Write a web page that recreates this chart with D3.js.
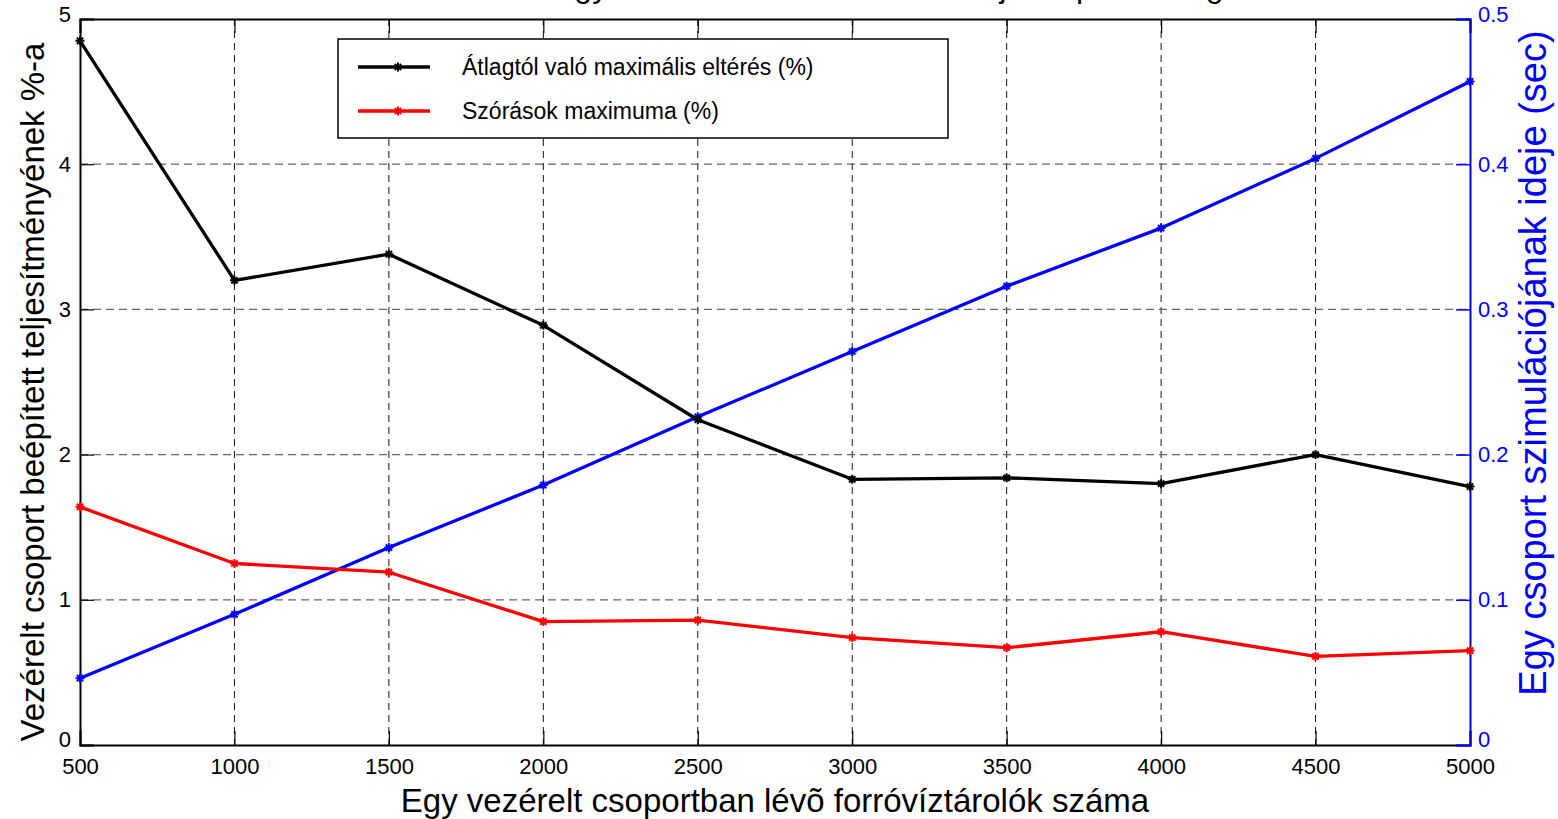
<!DOCTYPE html>
<html>
<head>
<meta charset="utf-8">
<script src="https://cdn.jsdelivr.net/npm/d3@7"></script>
<style>
  body { margin: 0; background: #fff; }
  svg { display: block; font-family: "Liberation Sans", Arial, sans-serif; }
</style>
</head>
<body>
<svg id="chart"></svg>
<script>
// adatok
const groupSizes = [500, 1000, 1500, 2000, 2500, 3000, 3500, 4000, 4500, 5000];
const maxDeviation = [4.85, 3.20, 3.38, 2.89, 2.24, 1.83, 1.84, 1.80, 2.00, 1.78];
const maxStd = [1.64, 1.25, 1.19, 0.85, 0.86, 0.74, 0.67, 0.78, 0.61, 0.65];
const simTime = [0.046, 0.090, 0.136, 0.179, 0.226, 0.271, 0.316, 0.356, 0.404, 0.457];
const leftTicks = [0, 1, 2, 3, 4, 5];
const rightTicks = [0, 0.1, 0.2, 0.3, 0.4, 0.5];
const seriesNames = ["Átlagtól való maximális eltérés (%)", "Szórások maximuma (%)"];

const W = 1558, H = 819;
const margin = { top: 19, right: 88, bottom: 74, left: 80 };
const FONT = "Liberation Sans, Arial, sans-serif";

const svg = d3.select("#chart").attr("width", W).attr("height", H);

const x = d3.scaleLinear().domain([500, 5000]).range([margin.left, W - margin.right]);
const yL = d3.scaleLinear().domain([0, 5]).range([H - margin.bottom, margin.top]);
const yR = d3.scaleLinear().domain([0, 0.5]).range([H - margin.bottom, margin.top]);

const x0 = margin.left, x1 = W - margin.right, y0 = H - margin.bottom, y1 = margin.top;

// cím (az eredetin is felül levágva)
svg.append("text")
  .attr("x", 553).attr("y", -3)
  .attr("font-size", 32)
  .text("Egy vezérelt hálózat szimulációja és pontossága");

// rács
const grid = svg.append("g");
grid.selectAll(".gx").data(groupSizes.slice(1, -1)).enter().append("line")
  .attr("x1", d => x(d)).attr("x2", d => x(d))
  .attr("y1", y1).attr("y2", y0)
  .attr("stroke", "#111").attr("stroke-width", 1).attr("stroke-dasharray", "7,5");
grid.selectAll(".gy").data(leftTicks.slice(1, -1)).enter().append("line")
  .attr("x1", x0).attr("x2", x1)
  .attr("y1", d => yL(d)).attr("y2", d => yL(d))
  .attr("stroke", "#666").attr("stroke-width", 1.2).attr("stroke-dasharray", "8,5");

// tengelyek
const axB = svg.append("g").attr("transform", `translate(0,${y0})`)
  .call(d3.axisBottom(x).tickValues(groupSizes).tickSize(-14).tickFormat(d3.format("d")));
const axT = svg.append("g").attr("transform", `translate(0,${y1})`)
  .call(d3.axisTop(x).tickValues(groupSizes).tickSize(-14).tickFormat(""));
const axL = svg.append("g").attr("transform", `translate(${x0},0)`)
  .call(d3.axisLeft(yL).tickValues(leftTicks).tickSize(-14).tickFormat(d3.format("d")));
const axR = svg.append("g").attr("transform", `translate(${x1},0)`)
  .call(d3.axisRight(yR).tickValues(rightTicks).tickSize(-14).tickFormat(d => d === 0 ? "0" : d3.format(".1f")(d)));

[axB, axT, axL, axR].forEach(a => a.attr("font-size", null).attr("font-family", null));
[axB, axT, axL].forEach(a => {
  a.selectAll("path.domain").attr("stroke", "#000").attr("stroke-width", 2);
  a.selectAll(".tick line").attr("stroke", "#000").attr("stroke-width", 1.2);
  a.selectAll("text").attr("font-size", 22).attr("fill", "#000").attr("font-family", FONT);
});
axR.selectAll("path.domain").attr("stroke", "#0000cc").attr("stroke-width", 2);
axR.selectAll(".tick line").attr("stroke", "#0000ff").attr("stroke-width", 1.5);
axR.selectAll("text").attr("font-size", 22).attr("fill", "#0000ff").attr("font-family", FONT);
axB.selectAll("text").attr("dy", "0.71em").attr("y", 13);
axL.selectAll("text").attr("x", -9).attr("dy", d => d === 0 ? "0.05em" : d === 5 ? "0.1em" : "0.32em");
axR.selectAll("text").attr("x", 8).attr("dy", d => d === 0 ? "0.05em" : d === 0.5 ? "0.1em" : "0.32em");

// tengelyfeliratok
svg.append("text")
  .attr("x", (x0 + x1) / 2).attr("y", 812)
  .attr("text-anchor", "middle").attr("font-size", 33)
  .text("Egy vezérelt csoportban lévõ forróvíztárolók száma");
svg.append("text")
  .attr("transform", `translate(44,${(y0 + y1) / 2 + 10}) rotate(-90)`)
  .attr("text-anchor", "middle").attr("font-size", 33)
  .text("Vezérelt csoport beépített teljesítményének %-a");
svg.append("text")
  .attr("transform", `translate(1546,363) rotate(-90)`)
  .attr("text-anchor", "middle").attr("font-size", 38).attr("fill", "#0000ff")
  .text("Egy csoport szimulációjának ideje (sec)");

// sorozatok
function star(g, px, py, color) {
  const r = 4.5;
  g.append("path")
    .attr("d", `M${px - r},${py}L${px + r},${py}M${px},${py - r}L${px},${py + r}` +
      `M${px - r * 0.7},${py - r * 0.7}L${px + r * 0.7},${py + r * 0.7}` +
      `M${px - r * 0.7},${py + r * 0.7}L${px + r * 0.7},${py - r * 0.7}`)
    .attr("stroke", color).attr("stroke-width", 2).attr("fill", "none");
}

function drawSeries(vals, yScale, color) {
  const g = svg.append("g");
  const line = d3.line().x((d, i) => x(groupSizes[i])).y(d => yScale(d));
  g.append("path").datum(vals).attr("d", line)
    .attr("fill", "none").attr("stroke", color).attr("stroke-width", 3.3)
    .attr("stroke-linejoin", "round");
  vals.forEach((v, i) => star(g, x(groupSizes[i]), yScale(v), color));
}

drawSeries(simTime, yR, "#0000ff");
drawSeries(maxDeviation, yL, "#000000");
drawSeries(maxStd, yL, "#ff0000");

// jelmagyarázat
const leg = svg.append("g").attr("transform", "translate(338,39)");
leg.append("rect").attr("width", 610).attr("height", 99)
  .attr("fill", "#fff").attr("stroke", "#000").attr("stroke-width", 1.5);
[["#000000", 28], ["#ff0000", 72]].forEach(([c, ly], i) => {
  leg.append("line").attr("x1", 20).attr("x2", 92).attr("y1", ly).attr("y2", ly)
    .attr("stroke", c).attr("stroke-width", 3.3);
  star(leg, 60, ly, c);
  leg.append("text").attr("x", 124).attr("y", ly).attr("dy", "0.35em")
    .attr("font-size", 23).text(seriesNames[i]);
});
</script>
</body>
</html>
